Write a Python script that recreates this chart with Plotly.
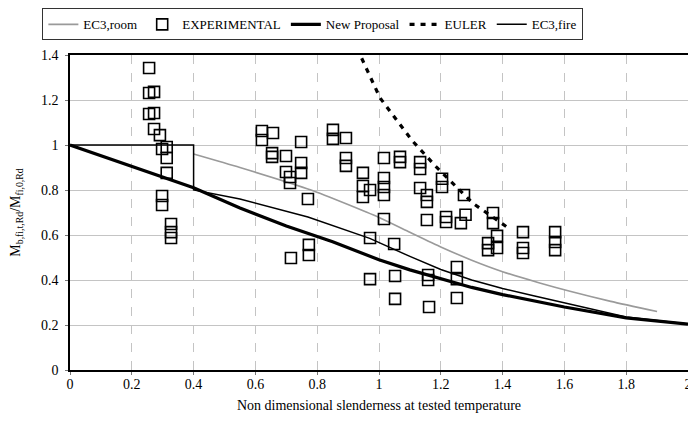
import plotly.graph_objects as go

# EC3, room temperature curve (grey)
room_x = [0.4, 0.55, 0.78, 1.0, 1.1, 1.2, 1.3, 1.4, 1.52, 1.618, 1.75, 1.9]
room_y = [0.96, 0.90, 0.80, 0.678, 0.612, 0.547, 0.488, 0.437, 0.387, 0.35, 0.305, 0.26]

# Experimental results
exp_x = [0.256, 0.256, 0.272, 0.256, 0.272, 0.272, 0.291, 0.298, 0.313, 0.313, 0.313, 0.298, 0.298, 0.327, 0.327, 0.327,
         0.621, 0.621, 0.657, 0.748, 0.654, 0.654, 0.699, 0.748, 0.748, 0.699, 0.712, 0.712, 0.770, 0.851, 0.851, 0.893,
         0.893, 0.893, 0.948, 0.948, 0.948, 0.971, 0.971, 0.773, 0.773, 0.715,
         1.016, 1.068, 1.068, 1.016, 1.016, 1.016, 1.133, 1.133, 1.133, 1.155, 1.155, 1.204, 1.204, 1.016, 1.049, 0.971,
         1.052, 1.052, 1.159, 1.159, 1.155, 1.217, 1.217, 1.162, 1.252, 1.252, 1.252, 1.265, 1.280, 1.275,
         1.369, 1.369, 1.353, 1.353, 1.382, 1.382, 1.466, 1.466, 1.466, 1.570, 1.570, 1.570]
exp_y = [1.342, 1.231, 1.236, 1.138, 1.142, 1.071, 1.044, 0.982, 0.991, 0.942, 0.876, 0.773, 0.733, 0.649, 0.613, 0.587,
         1.062, 1.022, 1.053, 1.013, 0.964, 0.947, 0.951, 0.920, 0.876, 0.880, 0.858, 0.831, 0.760, 1.067, 1.027, 1.031,
         0.942, 0.907, 0.876, 0.818, 0.769, 0.800, 0.587, 0.556, 0.511, 0.498,
         0.942, 0.947, 0.924, 0.853, 0.813, 0.778, 0.924, 0.893, 0.809, 0.778, 0.747, 0.850, 0.813, 0.671, 0.560, 0.404,
         0.418, 0.316, 0.422, 0.400, 0.667, 0.680, 0.658, 0.280, 0.458, 0.404, 0.320, 0.653, 0.690, 0.778,
         0.698, 0.653, 0.564, 0.533, 0.596, 0.542, 0.613, 0.542, 0.520, 0.613, 0.569, 0.533]

# New proposal (thick)
new_x = [0, 0.2, 0.4, 0.55, 0.7, 0.85, 1.0, 1.1, 1.2, 1.3, 1.4, 1.6, 1.8, 2.0]
new_y = [1.0, 0.905, 0.81, 0.72, 0.64, 0.57, 0.49, 0.445, 0.405, 0.367, 0.335, 0.28, 0.232, 0.204]

# Euler curve (dotted)
euler_x = [0.929, 1.003, 1.107, 1.187, 1.305, 1.337, 1.42]
euler_y = [1.43, 1.21, 1.02, 0.90, 0.74, 0.71, 0.63]

# EC3, fire curve (thin black)
fire_x = [0, 0.4, 0.4, 0.55, 0.77, 0.97, 1.1, 1.2, 1.3, 1.4, 1.5, 1.6, 1.7, 1.8, 2.0]
fire_y = [1.0, 1.0, 0.80, 0.76, 0.68, 0.585, 0.505, 0.447, 0.400, 0.362, 0.330, 0.298, 0.265, 0.236, 0.204]

x_ticks = [0, 0.2, 0.4, 0.6, 0.8, 1, 1.2, 1.4, 1.6, 1.8, 2]
x_labels = ["0", "0.2", "0.4", "0.6", "0.8", "1", "1.2", "1.4", "1.6", "1.8", "2"]
y_ticks = [0, 0.2, 0.4, 0.6, 0.8, 1, 1.2, 1.4]

FONT = "'Liberation Serif', 'DejaVu Serif', 'Times New Roman', serif"

fig = go.Figure()
fig.add_trace(go.Scatter(x=room_x, y=room_y, mode="lines", name="EC3,room",
                         line=dict(color="#9a9a9a", width=1.6, shape="spline", smoothing=0.6)))
fig.add_trace(go.Scatter(x=exp_x, y=exp_y, mode="markers", name="EXPERIMENTAL",
                         marker=dict(symbol="square-open", size=11, color="black",
                                     line=dict(width=1.6, color="black"))))
fig.add_trace(go.Scatter(x=new_x, y=new_y, mode="lines", name="New Proposal",
                         line=dict(color="black", width=3.2)))
fig.add_trace(go.Scatter(x=euler_x, y=euler_y, mode="lines", name="EULER",
                         line=dict(color="black", width=3.2, dash="5px,6px")))
fig.add_trace(go.Scatter(x=fire_x, y=fire_y, mode="lines", name="EC3,fire",
                         line=dict(color="black", width=1.5)))

# page body has an 8px margin, so the figure is sized to fit inside the window without scrolling
fig.update_layout(
    width=688, height=410,
    margin=dict(l=62, r=8, t=47, b=48, autoexpand=False),
    paper_bgcolor="white", plot_bgcolor="white",
    font=dict(family=FONT, size=14, color="black"),
    showlegend=True,
    legend=dict(orientation="h", x=0.393, xanchor="center", y=1.148, yanchor="top",
                bordercolor="#333333", borderwidth=1, bgcolor="white",
                font=dict(family=FONT, size=13), itemwidth=30, tracegroupgap=0),
)
fig.update_xaxes(range=[0, 2.0], tickmode="array", tickvals=x_ticks, ticktext=x_labels,
                 automargin=False,
                 showgrid=True, gridcolor="#c4c4c4", gridwidth=1,
                 griddash="dash", zeroline=False, showline=True, linecolor="black", linewidth=1.5,
                 mirror=True, ticks="outside", ticklen=3, tickcolor="#777777",
                 ticklabelstandoff=-3,
                 tickfont=dict(family=FONT, size=14),
                 title=dict(text="Non dimensional slenderness at tested temperature",
                            font=dict(family=FONT, size=14), standoff=10))
fig.update_yaxes(range=[0, 1.4], tickvals=y_ticks, automargin=False,
                 showgrid=True, gridcolor="#c4c4c4", gridwidth=1,
                 zeroline=False, showline=True, linecolor="black", linewidth=1.5,
                 mirror=True, ticks="outside", ticklen=3, tickcolor="#777777",
                 ticklabelstandoff=4,
                 tickfont=dict(family=FONT, size=14),
                 title=dict(text="M<sub>b,fi,t,Rd</sub>/M<sub>fi,0,Rd</sub>",
                            font=dict(family=FONT, size=14), standoff=18))

fig.write_html("out.html")
